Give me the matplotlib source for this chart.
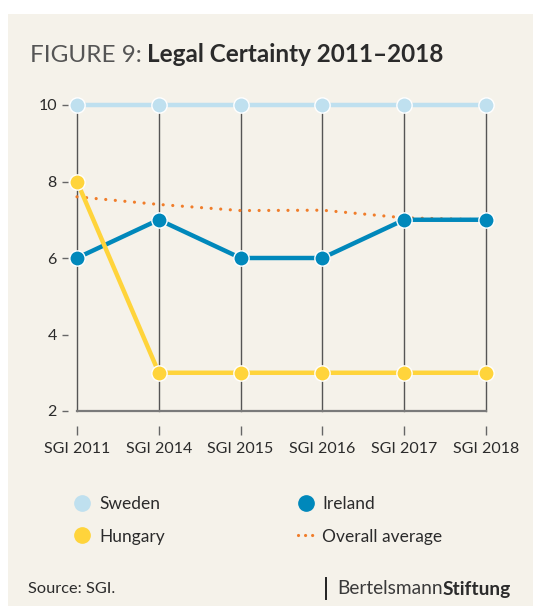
import matplotlib
matplotlib.use("Agg")
import matplotlib.pyplot as plt
from matplotlib.lines import Line2D
from matplotlib.patches import Rectangle

plt.rcParams['font.family'] = ['Lato', 'DejaVu Sans']

# data
years = ["SGI 2011", "SGI 2014", "SGI 2015", "SGI 2016", "SGI 2017", "SGI 2018"]
sweden = [10, 10, 10, 10, 10, 10]
ireland = [6, 7, 6, 6, 7, 7]
hungary = [8, 3, 3, 3, 3, 3]
average = [7.6, 7.4, 7.24, 7.25, 7.05, 7.0]
yticks = [2, 4, 6, 8, 10]

c_sweden = "#bfe0ef"
c_ireland = "#0088bb"
c_hungary = "#ffd43b"
c_avg = "#f07d2a"
bg = "#f5f2ea"
txt = "#2b2b2b"
dots = (0, (0.01, 3.0))

W, H = 533, 606
fig = plt.figure(figsize=(W / 100, H / 100), dpi=100)
fig.patch.set_facecolor("white")
# beige panel
fig.add_artist(Rectangle((8 / W, 0), 1, 1 - 14 / H, transform=fig.transFigure,
                         facecolor=bg, edgecolor="none", zorder=-10))

ax = fig.add_axes([77 / W, 1 - 411 / H, (486 - 77) / W, (411 - 105) / H])
ax.patch.set_alpha(0)

x = list(range(len(years)))

# vertical grid lines
for xi in x:
    ax.plot([xi, xi], [2, 10], color="#555555", lw=1.0, zorder=1, clip_on=False)
ax.plot([0, 5], [2, 2], color="#7a7a7a", lw=1.6, zorder=1, clip_on=False)

ax.plot(x, average, color=c_avg, lw=2.3, ls=dots, dash_capstyle="round",
        zorder=2, clip_on=False)
ax.plot(x, sweden, color=c_sweden, lw=3.2, marker="o", ms=11, mfc=c_sweden,
        mec="white", mew=1.0, zorder=3, clip_on=False)
ax.plot(x, ireland, color=c_ireland, lw=3.2, marker="o", ms=11, mfc=c_ireland,
        mec="white", mew=1.0, zorder=4, clip_on=False)
ax.plot(x, hungary, color=c_hungary, lw=3.2, marker="o", ms=11, mfc=c_hungary,
        mec="white", mew=1.0, zorder=5, clip_on=False)

ax.set_xlim(0, 5)
ax.set_ylim(2, 10)
ax.set_xticks(x)
ax.set_xticklabels(years)
ax.set_yticks(yticks)

for s in ["top", "right"]:
    ax.spines[s].set_visible(False)
ax.spines["bottom"].set_position(("outward", 10.8))
ax.spines["left"].set_position(("outward", 6.5))
ax.spines["bottom"].set_visible(False)
ax.spines["left"].set_visible(False)
ax.tick_params(axis="x", direction="out", length=6.5, width=1.0, color="#666666",
               pad=5, labelsize=11.5, labelcolor=txt)
ax.tick_params(axis="y", direction="out", length=4.5, width=1.0, color="#666666",
               pad=3.5, labelsize=11.5, labelcolor=txt)

# title
t1 = fig.text(30 / W, 1 - 62 / H, "FIGURE 9:", fontsize=17.5, fontweight="normal",
              color="#555555", va="baseline")
fig.add_artist(plt.Annotation("Legal Certainty 2011\u20132018", xy=(1, 0), xycoords=t1,
                              xytext=(3.5, 0), textcoords="offset points",
                              fontsize=17.5, fontweight="bold", color=txt, va="bottom"))

# legends, one per column
def dot(c):
    return Line2D([], [], ls="none", marker="o", ms=11, mfc=c, mec=c)

leg1 = fig.legend([dot(c_sweden), dot(c_hungary)], ["Sweden", "Hungary"],
                  loc="upper left", bbox_to_anchor=(66 / W, 1 - 487 / H),
                  frameon=False, fontsize=12.5, handlelength=0.9, handletextpad=0.55,
                  labelspacing=0.97, borderpad=0)
leg2 = fig.legend([dot(c_ireland), Line2D([], [], color=c_avg, lw=2.3, ls=(0, (0.01, 2.2)),
                                          dash_capstyle="round")],
                  ["Ireland", "Overall average"],
                  loc="upper left", bbox_to_anchor=(289 / W, 1 - 487 / H),
                  frameon=False, fontsize=12.5, handlelength=1.0, handletextpad=0.4,
                  labelspacing=0.97, borderpad=0)
for lg in (leg1, leg2):
    for t in lg.get_texts():
        t.set_color(txt)

# footer
fig.text(28 / W, 1 - 589 / H, "Source: SGI.", fontsize=11.8, color=txt, va="center")
fig.add_artist(Line2D([326 / W, 326 / W], [1 - 578 / H, 1 - 599 / H],
                      transform=fig.transFigure, color="#222222", lw=1.4))
t2 = fig.text(511 / W, 1 - 589 / H, "Stiftung", fontsize=13.8, fontweight="bold",
              color=txt, ha="right", va="center")
fig.add_artist(plt.Annotation("Bertelsmann", xy=(0, 0), xycoords=t2, xytext=(0, 0),
                              textcoords="offset points", fontsize=13.8, color="#3a3a3a",
                              ha="right", va="bottom"))

fig.savefig("out.png", dpi=100, facecolor=fig.get_facecolor())
